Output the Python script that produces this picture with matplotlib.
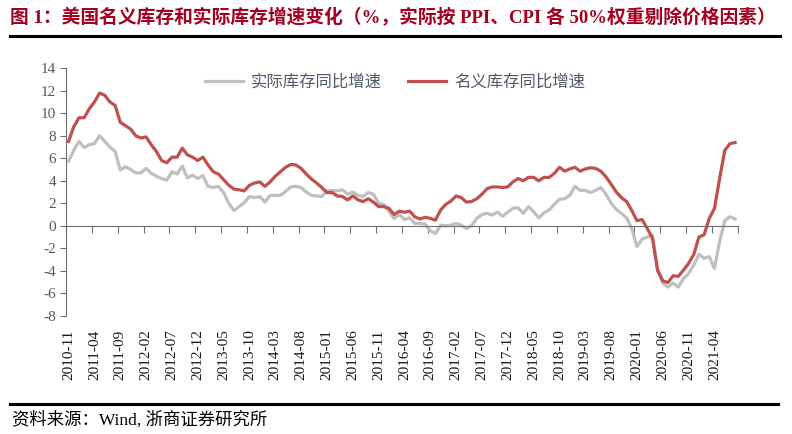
import numpy as np
import pandas as pd
from matplotlib import pyplot as plt

plt.rcParams['font.family'] = ['Liberation Serif', 'Noto Sans CJK SC']
plt.rcParams['axes.unicode_minus'] = False

# monthly, 2010-11 .. 2021-08
months = pd.date_range('2010-11-01', periods=130, freq='MS').strftime('%Y-%m').tolist()

nominal = [7.5, 8.8, 9.6, 9.6, 10.4, 11.0, 11.8, 11.6, 11.0, 10.7,
           9.2, 8.9, 8.6, 8.0, 7.8, 7.9, 7.2, 6.6, 5.8, 5.6,
           6.1, 6.1, 6.9, 6.3, 6.1, 5.8, 6.1, 5.4, 4.8, 4.6,
           4.1, 3.6, 3.25, 3.2, 3.1, 3.6, 3.8, 3.9, 3.5, 3.9,
           4.4, 4.8, 5.2, 5.45, 5.4, 5.1, 4.6, 4.15, 3.8, 3.4,
           2.95, 2.95, 2.65, 2.6, 2.3, 2.65, 2.3, 2.15, 2.4, 2.1,
           1.7, 1.7, 1.55, 1.0, 1.3, 1.2, 1.3, 0.8, 0.6, 0.75,
           0.65, 0.5, 1.4, 1.9, 2.2, 2.65, 2.5, 2.1, 2.15, 2.4,
           2.8, 3.3, 3.45, 3.45, 3.4, 3.45, 3.9, 4.2, 4.0, 4.3,
           4.3, 4.0, 4.3, 4.3, 4.65, 5.2, 4.85, 5.05, 5.2, 4.85,
           5.05, 5.15, 5.1, 4.85, 4.35, 3.7, 3.0, 2.5, 2.15, 1.35,
           0.45, 0.55, -0.25, -1.1, -4.0, -4.9, -5.05, -4.45, -4.5, -3.95,
           -3.35, -2.55, -1.0, -0.8, 0.65, 1.55, 4.2, 6.7, 7.3, 7.4]

real = [5.75, 6.7, 7.5, 6.95, 7.2, 7.3, 8.0, 7.5, 7.0, 6.6,
        4.95, 5.25, 5.0, 4.7, 4.7, 5.1, 4.65, 4.4, 4.2, 4.05,
        4.8, 4.6, 5.3, 4.25, 4.5, 4.2, 4.45, 3.5, 3.4, 3.5,
        2.95, 2.0, 1.35, 1.7, 2.05, 2.6, 2.5, 2.6, 2.1, 2.7,
        2.7, 2.7, 3.05, 3.45, 3.5, 3.4, 3.0, 2.7, 2.65, 2.6,
        3.1, 3.15, 3.1, 3.2, 2.8, 3.0, 2.7, 2.6, 2.95, 2.8,
        2.0, 1.9, 1.25, 0.65, 1.0, 0.55, 0.7, 0.2, 0.2, 0.15,
        -0.45, -0.7, 0.05, 0.0, 0.05, 0.2, 0.05, -0.25, 0.0, 0.65,
        1.0, 1.1, 0.95, 1.2, 0.85, 1.2, 1.55, 1.6, 1.1, 1.7,
        1.25, 0.7, 1.15, 1.4, 1.9, 2.35, 2.4, 2.7, 3.5, 3.15,
        3.15, 2.95, 3.15, 3.4, 2.8, 2.0, 1.45, 1.1, 0.7, -0.25,
        -1.85, -1.2, -1.0, -0.85, -3.8, -5.1, -5.45, -5.1, -5.45, -4.7,
        -4.25, -3.5, -2.55, -2.9, -2.75, -3.8, -1.4, 0.45, 0.8, 0.6]

label_real = '实际库存同比增速'
label_nominal = '名义库存同比增速'
title = '图 1：美国名义库存和实际库存增速变化（%，实际按 PPI、CPI 各 50%权重剔除价格因素）'
source = '资料来源：Wind, 浙商证券研究所'

axis_col = '#6e6e6e'
text_col = '#4f5968'

fig = plt.figure(figsize=(7.92, 4.34), dpi=100)
ax = fig.add_axes([66 / 792, (434 - 315.7) / 434, 671.7 / 792, 247.4 / 434])

x = np.arange(len(months))
ax.plot(x, real, color='#BFBFBF', lw=2.3, label=label_real, solid_joinstyle='round')
ax.plot(x, nominal, color='#C0504D', lw=2.3, label=label_nominal, solid_joinstyle='round')

ax.set_xlim(-0.5, len(months) - 0.5)
ax.set_ylim(-8, 14)
ax.set_yticks(np.arange(-8, 15, 2))
ax.tick_params(axis='y', direction='out', length=4, color=axis_col, labelsize=11,
               labelcolor=text_col, pad=3)

for s in ['top', 'right']:
    ax.spines[s].set_visible(False)
ax.spines['left'].set_color(axis_col)
ax.spines['bottom'].set_position(('data', 0))
ax.spines['bottom'].set_color(axis_col)

# tick marks on the zero line between categories, labels at the bottom
ax.set_xticks(np.arange(0, len(months) + 1, 5) - 0.5)
ax.tick_params(axis='x', direction='out', length=5, color=axis_col, labelbottom=False)

sec = ax.secondary_xaxis(0)
sec.set_xticks(x[::5], [months[i] for i in x[::5]])
sec.tick_params(axis='x', length=0, pad=10, labelsize=11, labelrotation=90, labelcolor='#1a1a1a')
sec.spines['bottom'].set_visible(False)

leg = ax.legend(loc='upper center', bbox_to_anchor=(0.49, 1.035), ncol=2, frameon=False,
                fontsize=11.8, handlelength=2.3, handletextpad=0.5, columnspacing=1.6)
for t in leg.get_texts():
    t.set_color(text_col)

fig.text(10 / 792, 1 - 18 / 434, title, fontsize=13.5, fontweight='bold', color='#A3001F',
         va='center', ha='left')
fig.add_artist(plt.Line2D([10 / 792, 780 / 792], [1 - 36 / 434] * 2, color='black', lw=2.2))
fig.add_artist(plt.Line2D([10 / 792, 778 / 792], [1 - 404 / 434] * 2, color='black', lw=2.2))
fig.text(12 / 792, 1 - 420 / 434, source, fontsize=12.5, color='black', va='center', ha='left')

plt.savefig('out.png', dpi=100)
